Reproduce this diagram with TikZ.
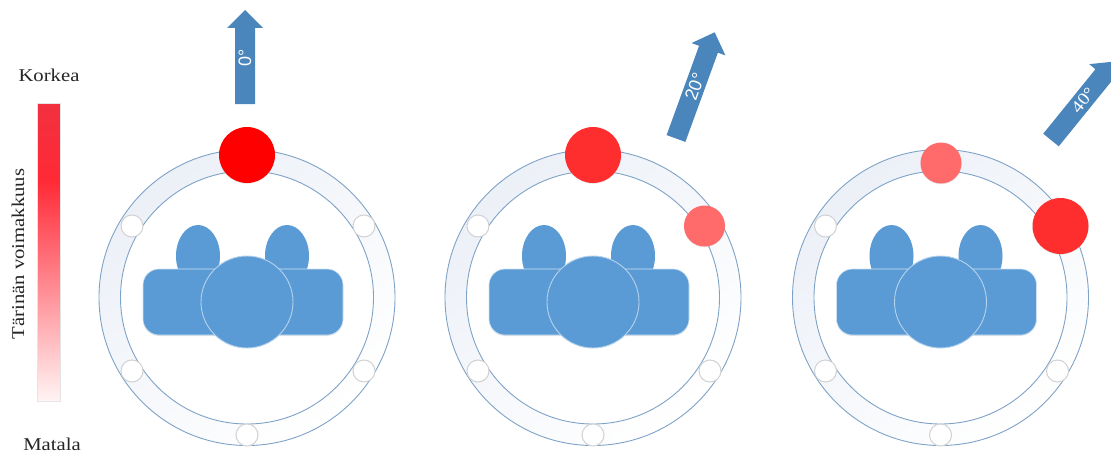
\documentclass[tikz,border=0pt]{standalone}
\usepackage{fontspec}
\setmainfont[FakeStretch=1.15]{Liberation Serif}
\setsansfont{Liberation Sans}
\usetikzlibrary{shapes.geometric,shadows,calc}
\definecolor{bodyblue}{HTML}{5B9BD5}
\definecolor{arrowblue}{HTML}{4A86BC}
\definecolor{ringline}{HTML}{7FA3C7}
\definecolor{hard}{HTML}{FF0000}
\definecolor{strong}{HTML}{FF2E2E}
\definecolor{mild}{HTML}{FF6B6B}
\definecolor{bandtint}{HTML}{ECF0F7}
\definecolor{barA}{HTML}{F2303F}
\definecolor{barB}{HTML}{FF2A36}
\definecolor{barC}{HTML}{FF6A74}
\definecolor{barD}{HTML}{FFF4F4}
\pgfdeclareverticalshading{vibrationbar}{100bp}{
  color(0bp)=(barD); color(25bp)=(barD); color(50bp)=(barC); color(62bp)=(barB); color(75bp)=(barA); color(100bp)=(barA)}
\tikzset{
  x=1pt,y=-1pt,
  ringline/.style={draw=ringline,line width=.9pt,circle,inner sep=0pt,fill=none},
  sensor/.style={circle,inner sep=0pt,draw=black!18,line width=1pt,fill=white,minimum size=22pt},
  hot/.style={circle,inner sep=0pt,draw=none,fill=#1,minimum size=56pt,drop shadow={shadow xshift=0pt,shadow yshift=-.8pt,opacity=.18}},
  warm/.style={circle,inner sep=0pt,draw=none,fill=#1,minimum size=41pt,drop shadow={shadow xshift=0pt,shadow yshift=-.8pt,opacity=.18}},
  headshape/.style={ellipse,inner sep=0pt,fill=bodyblue,minimum width=44pt,minimum height=62pt},
  torso/.style={rectangle,rounded corners=16pt,inner sep=0pt,fill=bodyblue,minimum width=200pt,minimum height=66pt,draw=white!70!bodyblue,line width=.6pt,drop shadow={shadow xshift=0pt,shadow yshift=-1pt,opacity=.2}},
  hub/.style={circle,inner sep=0pt,fill=bodyblue,draw=white!55!bodyblue,line width=.9pt,minimum size=92pt},
  arrowbody/.style={fill=arrowblue,draw=none},
  arrowtext/.style={text=white,font=\sffamily\fontsize{18}{18}\selectfont,rotate=90,transform shape},
  caption/.style={font=\fontsize{18}{18}\selectfont,text=black!85},
}
\newcommand{\seatunit}[2]{%
  \shade[top color=bandtint,bottom color=white,shading angle=40,even odd rule]
    (#2,297.5) circle[radius=148] (#2,297.5) circle[radius=126.5];
  \node[ringline,minimum size=296pt] (#1outer) at (#2,297.5) {};
  \node[ringline,minimum size=253pt] (#1inner) at (#2,297.5) {};
  \node[sensor] (#1a) at ($(#2,226)+(-115,0)$) {};
  \node[sensor] (#1b) at ($(#2,371)+(-115,0)$) {};
  \node[sensor] (#1c) at (#2,435) {};
  \node[sensor] (#1d) at ($(#2,371)+(117,0)$) {};
  \node[sensor] (#1e) at ($(#2,226)+(117,0)$) {};
  \node[headshape] (#1hl) at ($(#2,256)+(-49,0)$) {};
  \node[headshape] (#1hr) at ($(#2,256)+(40,0)$) {};
  \node[torso] (#1t) at ($(#2,302)+(-4,0)$) {};
  \node[hub] (#1h) at (#2,302) {};
}
% #1 name, #2 base x, #3 base y, #4 angle, #5 shaft length, #6 label, #7 label distance, #8 extra
\newcommand{\tiltarrow}[8]{%
  \begin{scope}[shift={(#2,#3)},rotate=-#4]
    \fill[arrowbody] (-10,0) -- (-10,-#5) -- (-18,-#5) -- (0,-#5-18) -- (18,-#5) -- (10,-#5) -- (10,0) -- cycle;
    \node[arrowtext,#8] (#1) at (0,-#7) {#6};
  \end{scope}
}
\begin{document}
\begin{tikzpicture}
\useasboundingbox (0,0) rectangle (1111,452);
\clip (0,0) rectangle (1111,452);
\fill[white] (0,0) rectangle (1111,452);

% scale
\node[caption] (hi) at (49,75) {Korkea};
\node[caption] (lo) at (52,444) {Matala};
\node[caption,rotate=90] (axis) at (18,254) {Tärinän voimakkuus};
\shade[shading=vibrationbar] (37,103) rectangle (60,401);
\draw[black!10,line width=.6pt] (37,103) rectangle (60,401);

\seatunit{p}{247}
\seatunit{q}{593}
\seatunit{r}{940.5}

% vibration points
\node[hot=hard] (pv) at (247,155) {};
\node[hot=strong] (qv) at (593,155) {};
\node[warm=mild] (qw) at (704.5,226) {};
\node[warm=mild] (rw) at (941,163) {};
\node[hot=strong] (rv) at (1060.5,226) {};

% direction arrows
\tiltarrow{pa}{245}{104}{0}{76}{0°}{46}{}
\tiltarrow{qa}{676}{138.5}{20}{95}{20°}{55}{}
\tiltarrow{ra}{1051}{140}{39}{83}{40°}{51}{font=\rmfamily\fontsize{17}{17}\selectfont}
\end{tikzpicture}
\end{document}
